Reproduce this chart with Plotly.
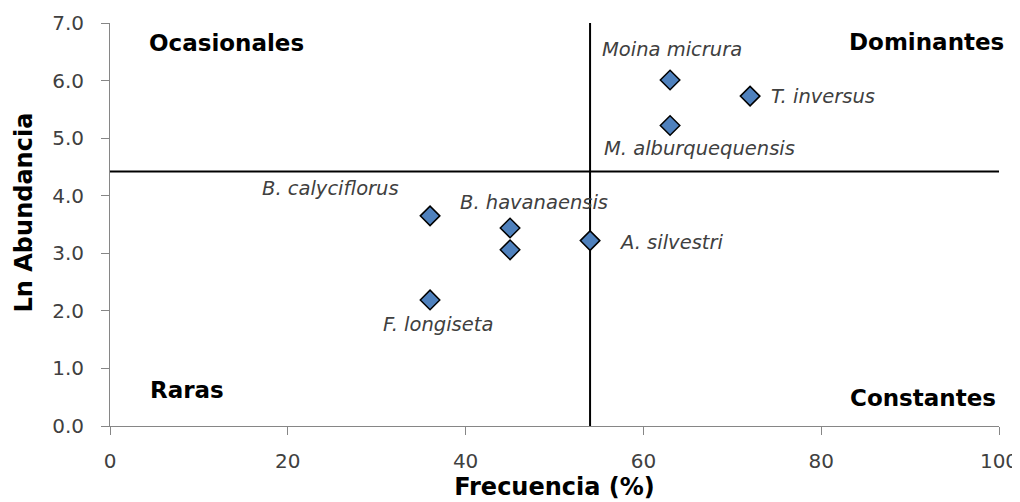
import plotly.graph_objects as go

# Data
species = ["B. calyciflorus", "B. havanaensis", "B. havanaensis (2)", "A. silvestri",
           "F. longiseta", "Moina micrura", "T. inversus", "M. alburquequensis"]
frecuencia = [36, 45, 45, 54, 36, 63, 72, 63]
ln_abundancia = [3.65, 3.44, 3.06, 3.22, 2.19, 6.01, 5.73, 5.22]
label_text = ["B. calyciflorus", "B. havanaensis", "", "A. silvestri",
              "F. longiseta", "Moina micrura", "T. inversus", "M. alburquequensis"]

quadrant_names = ["Ocasionales", "Dominantes", "Raras", "Constantes"]
quadrant_x = [13.1, 91.8, 8.7, 91.5]
quadrant_y = [6.65, 6.67, 0.63, 0.49]

freq_cut = 54.0
abund_cut = 4.42

x_ticks = [0, 20, 40, 60, 80, 100]
y_ticks = [0, 1, 2, 3, 4, 5, 6, 7]

# label offsets (pixels) and anchors
label_style = [
    (-100, 27, "center"),
    (24, 25, "center"),
    (0, 0, "center"),
    (27, -2, "left"),
    (8, -25, "center"),
    (2, 31, "center"),
    (19, 0, "left"),
    (29, -23, "center"),
]

FONT = "DejaVu Sans"

fig = go.Figure()
fig.add_trace(go.Scatter(
    x=frecuencia, y=ln_abundancia, mode="markers",
    marker=dict(symbol="diamond", size=15, color="#4F81BD",
                line=dict(color="black", width=1.5)),
    showlegend=False, hoverinfo="skip", cliponaxis=False))

# quadrant dividing lines
fig.add_shape(type="line", x0=freq_cut, x1=freq_cut, y0=-0.12, y1=7.14,
              xref="x", yref="y", line=dict(color="black", width=2), layer="below")
fig.add_shape(type="line", x0=-0.4, x1=100.3, y0=abund_cut, y1=abund_cut,
              xref="x", yref="y", line=dict(color="black", width=2), layer="below")

for xv, yv, t, (dx, dy, anc) in zip(frecuencia, ln_abundancia, label_text, label_style):
    if not t:
        continue
    fig.add_annotation(x=xv, y=yv, text="<i>" + t + "</i>", showarrow=False,
                       xshift=dx, yshift=dy, xanchor=anc, yanchor="middle",
                       font=dict(family=FONT, size=19.5, color="#404040"))

for name, qx, qy in zip(quadrant_names, quadrant_x, quadrant_y):
    fig.add_annotation(x=qx, y=qy, text="<b>" + name + "</b>", showarrow=False,
                       xanchor="center", yanchor="middle",
                       font=dict(family=FONT, size=23, color="black"))

# y-axis title (placed slightly above plot centre, as in the reference)
fig.add_annotation(xref="paper", yref="paper", x=-0.0967, y=0.53,
                   text="<b>Ln Abundancia</b>", textangle=-90, showarrow=False,
                   xanchor="center", yanchor="middle",
                   font=dict(family=FONT, size=24, color="black"))

fig.update_layout(
    width=1020, height=502,
    margin=dict(l=102, r=29, t=15, b=84),
    plot_bgcolor="white", paper_bgcolor="white",
    font=dict(family=FONT, color="#404040"),
    xaxis=dict(range=[0, 100], tickvals=x_ticks, ticktext=[str(v) for v in x_ticks],
               automargin=False,
               showgrid=False, zeroline=False, showline=True, linecolor="#868686",
               linewidth=1, ticks="outside", ticklen=8, tickcolor="#868686",
               ticklabelstandoff=9,
               tickfont=dict(size=20, color="#404040"),
               title=dict(text="<b>Frecuencia (%)</b>", standoff=5,
                          font=dict(size=24, color="black"))),
    yaxis=dict(range=[0, 7], tickvals=y_ticks, ticktext=[f"{v:.1f}" for v in y_ticks],
               automargin=False,
               showgrid=False, zeroline=False, showline=True, linecolor="#868686",
               linewidth=1, ticks="outside", ticklen=8, tickcolor="#868686",
               ticklabelstandoff=13,
               tickfont=dict(size=20, color="#404040")),
)

fig.write_html("out.html")
